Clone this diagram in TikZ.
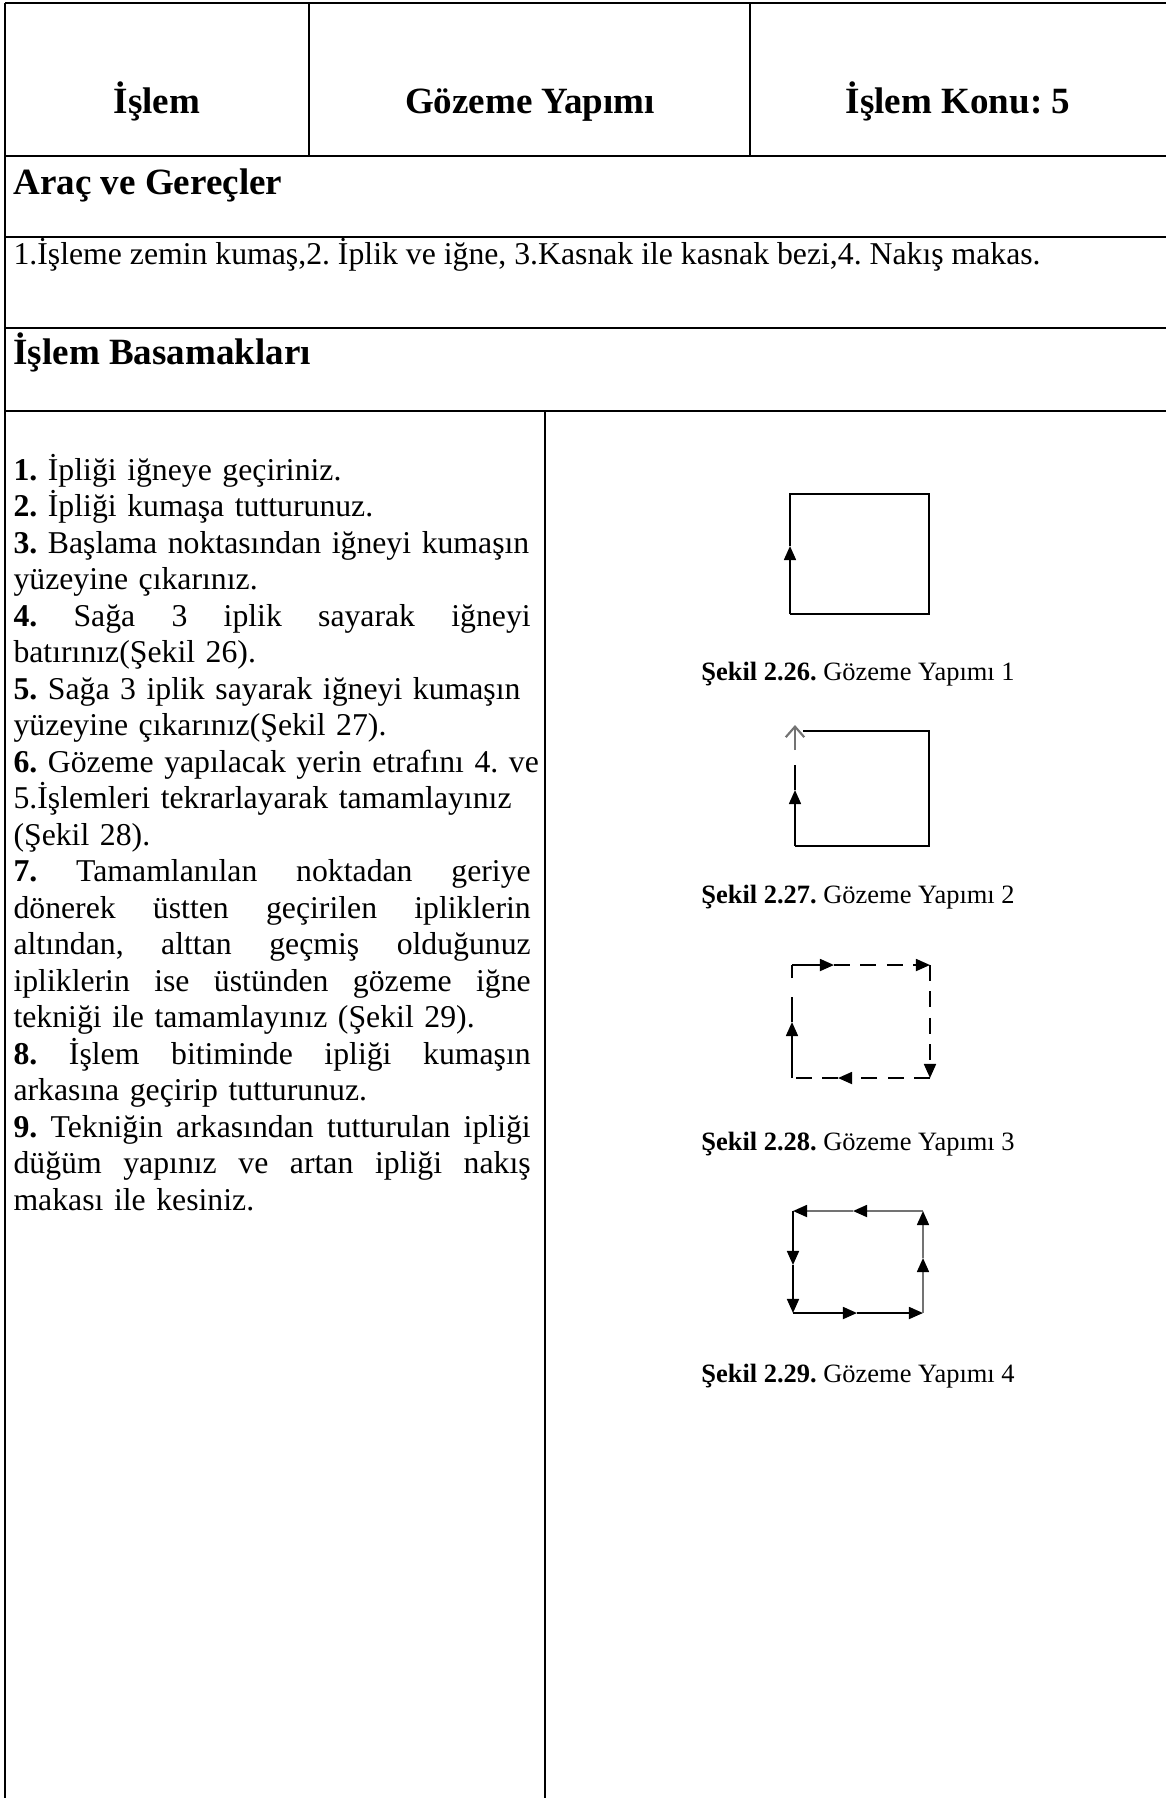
\documentclass[tikz,border=0pt]{standalone}
\usepackage{fontspec}
\setmainfont{Liberation Serif}
\usetikzlibrary{arrows.meta}
\frenchspacing

\newcommand{\yay}[1]{\leavevmode\hbox to 195.5pt{\spaceskip=0.25em plus 1fil\relax #1}}

\begin{document}
\begin{tikzpicture}[x=0.378pt, y=-0.378pt,
    kalin/.style={line width=1.1pt},
    ince/.style={line width=0.75pt},
    kutu/.style={line width=0.75pt},
    kesik/.style={dash pattern=on 6pt off 4pt},
    gri/.style={draw=black!55},
    ok/.style={-{Triangle[length=5.3pt,width=4.5pt,color=black]}},
    baslik/.style={font=\fontsize{14}{16}\selectfont\bfseries, inner sep=0pt, anchor=base},
    bolum/.style={font=\fontsize{14}{16}\selectfont\bfseries, inner sep=0pt, anchor=base west},
    metin/.style={font=\fontsize{12}{13.8}\selectfont, inner sep=0pt, anchor=base west},
    altyazi/.style={font=\fontsize{10}{12}\selectfont, inner sep=0pt, anchor=base}]
  \useasboundingbox (0,0) rectangle (1166,1798);

  % table
  \draw[kalin] (5,3) -- (1166,3);
  \draw[kalin] (5,156) -- (1166,156);
  \draw[kalin] (5,237) -- (1166,237);
  \draw[kalin] (5,328) -- (1166,328);
  \draw[kalin] (5,411) -- (1166,411);
  \draw[kalin] (5,3) -- (5,1798);
  \draw[ince] (309,3) -- (309,156);
  \draw[ince] (750,3) -- (750,156);
  \draw[ince] (545,411) -- (545,1798);

  \node[baslik] (islem) at (157,113) {İşlem};
  \node[baslik] (gozeme) at (530,113) {Gözeme Yapımı};
  \node[baslik] (konu) at (958,113) {İşlem Konu: 5};

  \node[bolum] (arac) at (13,194) {Araç ve Gereçler};
  \node[metin] (liste) at (13,264)
    {1.İşleme zemin kumaş,2. İplik ve iğne, 3.Kasnak ile kasnak bezi,4. Nakış makas.};
  \node[bolum] (basamak) at (13,364) {İşlem Basamakları};

  \node[metin, text width=205pt] (adimlar) at (13,480) {%
    \textbf{1.} İpliği iğneye geçiriniz.\\
    \textbf{2.} İpliği kumaşa tutturunuz.\\
    \textbf{3.} Başlama noktasından iğneyi kumaşın\\
    yüzeyine çıkarınız.\\
    \yay{\textbf{4.} Sağa 3 iplik sayarak iğneyi}\\
    batırınız(Şekil 26).\\
    \textbf{5.} Sağa 3 iplik sayarak iğneyi kumaşın\\
    yüzeyine çıkarınız(Şekil 27).\\
    \textbf{6.} Gözeme yapılacak yerin etrafını 4. ve\\
    5.İşlemleri tekrarlayarak tamamlayınız\\
    (Şekil 28).\\
    \yay{\textbf{7.} Tamamlanılan noktadan geriye}\\
    \yay{dönerek üstten geçirilen ipliklerin}\\
    \yay{altından, alttan geçmiş olduğunuz}\\
    \yay{ipliklerin ise üstünden gözeme iğne}\\
    tekniği ile tamamlayınız (Şekil 29).\\
    \yay{\textbf{8.} İşlem bitiminde ipliği kumaşın}\\
    arkasına geçirip tutturunuz.\\
    \yay{\textbf{9.} Tekniğin arkasından tutturulan ipliği}\\
    \yay{düğüm yapınız ve artan ipliği nakış}\\
    makası ile kesiniz.};

  % sekil 2.26
  \draw[kutu, ok] (790,614) -- (790,546);
  \draw[kutu] (790,546) -- (790,494) -- (929,494) -- (929,614) -- (790,614);
  \node[altyazi] (sekil1) at (858,680) {\textbf{Şekil 2.26.} Gözeme Yapımı 1};

  % sekil 2.27
  \draw[kutu, ok] (795,846) -- (795,790);
  \draw[kutu] (795,790) -- (795,765);
  \draw[kutu] (803,731) -- (929,731) -- (929,846) -- (795,846);
  \draw[kutu, gri, line width=0.8pt, -{Straight Barb[length=4pt,width=7pt]}] (795,750) -- (795,725);
  \node[altyazi] (sekil2) at (858,903) {\textbf{Şekil 2.27.} Gözeme Yapımı 2};

  % sekil 2.28
  \draw[kutu, ok] (792,965) -- (834,965);
  \draw[kutu, kesik, ok] (834,965) -- (930,965);
  \draw[kutu, kesik, ok] (930,965) -- (930,1078);
  \draw[kutu, kesik, ok] (930,1078) -- (838,1078);
  \draw[kutu, kesik] (838,1078) -- (792,1078);
  \draw[kutu, ok] (792,1078) -- (792,1022);
  \draw[kutu] (792,1022) -- (792,997);
  \draw[kutu] (792,978) -- (792,965);
  \node[altyazi] (sekil3) at (858,1150) {\textbf{Şekil 2.28.} Gözeme Yapımı 3};

  % sekil 2.29
  \draw[kutu, gri, ok] (923,1211) -- (853,1211);
  \draw[kutu, gri, ok] (853,1211) -- (793,1211);
  \draw[kutu, ok] (793,1211) -- (793,1265);
  \draw[kutu, ok] (793,1265) -- (793,1313);
  \draw[kutu, ok] (793,1313) -- (857,1313);
  \draw[kutu, ok] (857,1313) -- (923,1313);
  \draw[kutu, gri, ok] (923,1313) -- (923,1258);
  \draw[kutu, gri, ok] (923,1258) -- (923,1211);
  \node[altyazi] (sekil4) at (858,1382) {\textbf{Şekil 2.29.} Gözeme Yapımı 4};
\end{tikzpicture}
\end{document}
